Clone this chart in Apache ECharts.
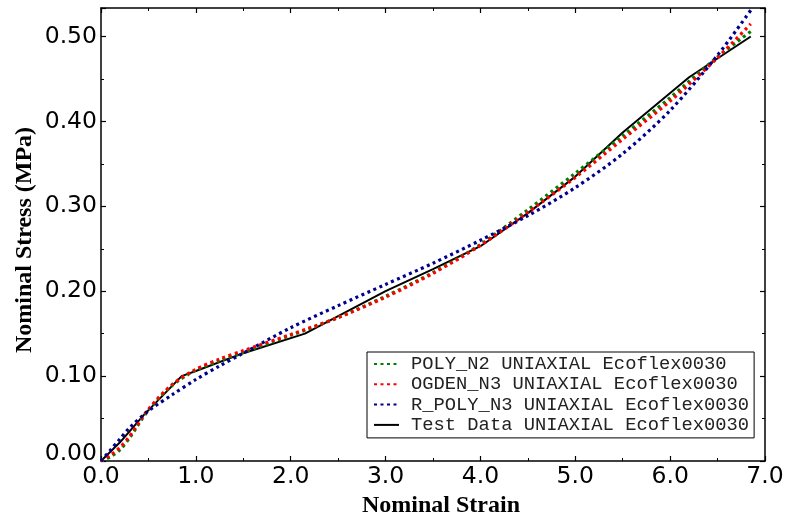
<!DOCTYPE html>
<html>
<head>
<meta charset="utf-8">
<script src="https://cdn.jsdelivr.net/npm/echarts@6/dist/echarts.min.js"></script>
<style>html,body{margin:0;padding:0;background:#fff}#c{width:787px;height:516px}</style>
</head>
<body>
<div id="c"></div>
<script>
// ---- data ----
var seriesNames = ['POLY_N2 UNIAXIAL Ecoflex0030', 'OGDEN_N3 UNIAXIAL Ecoflex0030', 'R_POLY_N3 UNIAXIAL Ecoflex0030', 'Test Data UNIAXIAL Ecoflex0030'];
var modelStrain = [0, 0.1, 0.2, 0.3, 0.5, 0.75, 1.0, 1.25, 1.5, 2.0, 2.5, 3.0, 3.5, 4.0, 4.5, 5.0, 5.5, 6.0, 6.5, 6.85];
var polyN2 = [0, 0.005, 0.013, 0.027, 0.060, 0.089, 0.107, 0.118, 0.128, 0.148, 0.169, 0.194, 0.222, 0.255, 0.296, 0.339, 0.383, 0.428, 0.476, 0.506];
var ogdenN3 = [0, 0.007, 0.016, 0.029, 0.061, 0.090, 0.108, 0.120, 0.130, 0.149, 0.169, 0.193, 0.221, 0.254, 0.293, 0.334, 0.379, 0.424, 0.475, 0.515];
var rPolyN3 = [0, 0.013, 0.026, 0.039, 0.059, 0.078, 0.096, 0.112, 0.127, 0.157, 0.183, 0.208, 0.233, 0.260, 0.289, 0.322, 0.362, 0.413, 0.478, 0.531];
var testStrain = [0, 0.2, 0.45, 0.85, 1.0, 1.5, 2.15, 3.0, 3.5, 4.0, 4.5, 5.0, 5.5, 6.2, 6.85];
var testStress = [0, 0.022, 0.054, 0.100, 0.106, 0.127, 0.150, 0.200, 0.226, 0.253, 0.292, 0.335, 0.387, 0.452, 0.500];

function pairs(xs, ys) { return xs.map(function (x, i) { return [x, ys[i]]; }); }

var chart = echarts.init(document.getElementById('c'), null, {renderer: 'canvas'});
var titleFont = {fontFamily: 'Liberation Serif', fontWeight: 'bold', fontSize: 24, color: '#000'};
function baseAxis(extra) {
  var a = {
    type: 'value',
    axisLine: {show: true, onZero: false, lineStyle: {color: '#000', width: 1.5}},
    axisTick: {show: true, inside: true, length: 5, lineStyle: {color: '#000', width: 1.2}},
    minorTick: {show: true, splitNumber: 2, length: 3, lineStyle: {color: '#000', width: 1}},
    splitLine: {show: false},
    minorSplitLine: {show: false}
  };
  for (var k in extra) a[k] = extra[k];
  return a;
}
var dotted = function (color) { return {color: color, width: 3.2, type: [3, 3.5], cap: 'butt'}; };

chart.setOption({
  animation: false,
  backgroundColor: '#fff',
  grid: {left: 101, right: 22, top: 8, bottom: 55, containLabel: false, outerBoundsMode: 'none'},
  xAxis: [
    baseAxis({min: 0, max: 7, interval: 1, position: 'bottom',
      name: 'Nominal Strain', nameLocation: 'middle', nameGap: 27,
      nameTextStyle: Object.assign({padding: [0, 0, 0, 16]}, titleFont),
      axisLabel: {show: true, margin: 4, formatter: function (v) { return v.toFixed(1); }, fontFamily: 'DejaVu Sans', fontSize: 23.5, color: '#000'}}),
    baseAxis({min: 0, max: 7, interval: 1, position: 'top', axisLabel: {show: false}})
  ],
  yAxis: [
    baseAxis({min: 0, max: 0.5336, interval: 0.1, position: 'left',
      name: 'Nominal Stress (MPa)', nameLocation: 'middle', nameGap: 64, nameMoveOverlap: false,
      nameTextStyle: Object.assign({padding: [0, 11, 0, 0]}, titleFont),
      axisLabel: {show: true, margin: 4, showMaxLabel: false,
        formatter: function (v) { return v === 0 ? '{z|0.00}' : v.toFixed(2); },
        rich: {z: {fontFamily: 'DejaVu Sans', fontSize: 23.5, color: '#000', padding: [0, 0, 14, 0]}},
        fontFamily: 'DejaVu Sans', fontSize: 23.5, color: '#000'}}),
    baseAxis({min: 0, max: 0.5336, interval: 0.1, position: 'right', axisLabel: {show: false}})
  ],
  legend: {
    orient: 'vertical', left: 367, top: 352,
    backgroundColor: '#fff', borderColor: '#000', borderWidth: 1,
    padding: [2, 5, 3, 6], itemWidth: 25, itemHeight: 14, itemGap: 0.3,
    itemStyle: {opacity: 0},
    data: seriesNames,
    textStyle: {fontFamily: 'Liberation Mono', fontSize: 18.8, color: '#222', lineHeight: 20, padding: [0, 0, 0, 7]}
  },
  series: [
    {name: seriesNames[3], type: 'line', data: pairs(testStrain, testStress), showSymbol: false, symbol: 'none',
     lineStyle: {color: '#000', width: 2}, itemStyle: {color: '#000'}, z: 2},
    {name: seriesNames[0], type: 'line', data: pairs(modelStrain, polyN2), smooth: 0.3, showSymbol: false, symbol: 'none',
     lineStyle: dotted('#008000'), itemStyle: {color: '#008000'}, z: 3},
    {name: seriesNames[1], type: 'line', data: pairs(modelStrain, ogdenN3), smooth: 0.3, showSymbol: false, symbol: 'none',
     lineStyle: dotted('#ff0000'), itemStyle: {color: '#ff0000'}, z: 3},
    {name: seriesNames[2], type: 'line', data: pairs(modelStrain, rPolyN3), smooth: 0.3, showSymbol: false, symbol: 'none',
     lineStyle: dotted('#00008b'), itemStyle: {color: '#00008b'}, z: 3}
  ]
});
</script>
</body>
</html>
